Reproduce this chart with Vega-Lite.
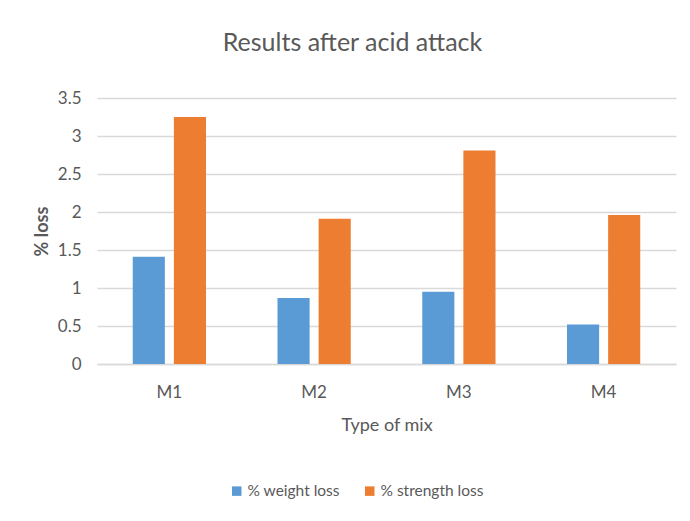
{
  "$schema": "https://vega.github.io/schema/vega-lite/v6.json",
  "width": 579,
  "height": 266,
  "autosize": {"type": "none"},
  "padding": {"left": 97, "top": 98, "right": 14, "bottom": 157},
  "background": "white",
  "title": {
    "text": "Results after acid attack",
    "fontSize": 25,
    "font": "Lato",
    "fontWeight": "normal",
    "color": "#595959",
    "anchor": "middle",
    "dx": -34,
    "offset": 33
  },
  "data": {
    "values": [
      {"mix": "M1", "measure": "% weight loss", "value": 1.41},
      {"mix": "M1", "measure": "% strength loss", "value": 3.25},
      {"mix": "M2", "measure": "% weight loss", "value": 0.87},
      {"mix": "M2", "measure": "% strength loss", "value": 1.91},
      {"mix": "M3", "measure": "% weight loss", "value": 0.95},
      {"mix": "M3", "measure": "% strength loss", "value": 2.81},
      {"mix": "M4", "measure": "% weight loss", "value": 0.52},
      {"mix": "M4", "measure": "% strength loss", "value": 1.96}
    ]
  },
  "mark": {"type": "bar"},
  "encoding": {
    "x": {
      "field": "mix",
      "type": "nominal",
      "title": "Type of mix",
      "scale": {"paddingInner": 0.494, "paddingOuter": 0.247},
      "axis": {
        "labelAngle": 0,
        "ticks": false,
        "labelPadding": 20,
        "labelFontSize": 17,
        "titleFontSize": 18,
        "titleFontWeight": "normal",
        "titlePadding": 16,
        "domainColor": "#d9d9d9",
        "domainWidth": 1.5
      }
    },
    "xOffset": {
      "field": "measure",
      "type": "nominal",
      "sort": ["% weight loss", "% strength loss"],
      "scale": {"paddingInner": 0.219, "paddingOuter": 0}
    },
    "y": {
      "field": "value",
      "type": "quantitative",
      "title": "% loss",
      "scale": {"domain": [0, 3.5]},
      "axis": {
        "values": [0, 0.5, 1, 1.5, 2, 2.5, 3, 3.5],
        "format": "~g",
        "labelOverlap": false,
        "domain": false,
        "ticks": false,
        "labelPadding": 16,
        "labelFontSize": 17,
        "titleFontSize": 18,
        "titleFontWeight": "bold",
        "titlePadding": 6,
        "gridColor": "#d9d9d9",
        "gridWidth": 1.5
      }
    },
    "color": {
      "field": "measure",
      "type": "nominal",
      "sort": ["% weight loss", "% strength loss"],
      "scale": {"domain": ["% weight loss", "% strength loss"], "range": ["#5B9BD5", "#ED7D31"]},
      "legend": {
        "title": null,
        "orient": "none",
        "direction": "horizontal",
        "legendX": 132,
        "legendY": 385,
        "symbolType": "square",
        "symbolSize": 90,
        "symbolStrokeWidth": 0,
        "labelFontSize": 15.5,
        "labelColor": "#595959",
        "columnPadding": 22,
        "labelOffset": 3
      }
    }
  },
  "config": {
    "font": "Lato",
    "view": {"stroke": null},
    "axis": {
      "labelColor": "#595959",
      "titleColor": "#595959",
      "labelFont": "Lato",
      "titleFont": "Lato"
    },
    "legend": {"labelFont": "Lato"}
  }
}
